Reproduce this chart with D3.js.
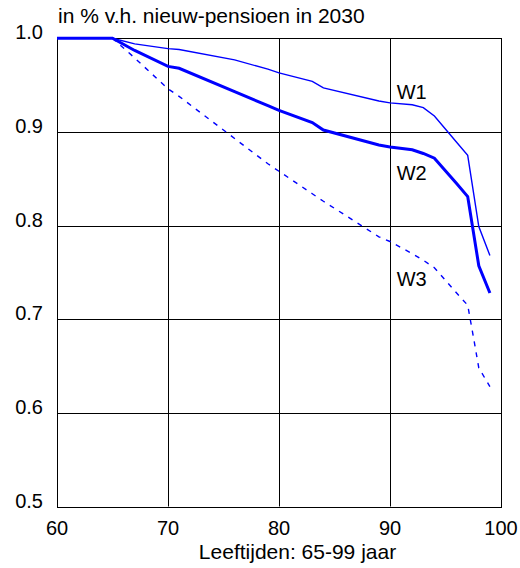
<!DOCTYPE html>
<html>
<head>
<meta charset="utf-8">
<script src="https://cdn.jsdelivr.net/npm/d3@7"></script>
<style>
  body { margin: 0; background: #fff; }
  text { font-family: "Liberation Sans", Arial, sans-serif; fill: #000; }
</style>
</head>
<body>
<script>
var w = 520, h = 568;

// data
var ages = [60, 65, 67, 70, 71, 76, 79, 80, 83, 84, 89, 90, 92, 93, 94, 96, 97, 98, 99];
var w1 = [1.0, 1.0, 0.994, 0.989, 0.988, 0.977, 0.967, 0.963, 0.954, 0.947, 0.933, 0.931, 0.929, 0.926, 0.917, 0.889, 0.875, 0.799, 0.768];
var w2 = [1.0, 1.0, 0.987, 0.970, 0.968, 0.943, 0.928, 0.923, 0.910, 0.902, 0.886, 0.884, 0.881, 0.877, 0.872, 0.845, 0.831, 0.757, 0.728];
var ages3 = [60, 65, 67, 70, 71, 76, 79, 80, 83, 84, 89, 90, 92, 93, 94, 96, 97, 97.5, 98, 99];
var w3 = [1.0, 1.0, 0.979, 0.946, 0.938, 0.893, 0.866, 0.858, 0.834, 0.826, 0.788, 0.783, 0.770, 0.763, 0.755, 0.728, 0.715, 0.682, 0.648, 0.628];
var xTicks = [60, 70, 80, 90, 100];
var yTicks = [0.5, 0.6, 0.7, 0.8, 0.9, 1.0];
var labels = [
  {name: "W1", age: 90.6, value: 0.935},
  {name: "W2", age: 90.6, value: 0.849},
  {name: "W3", age: 90.6, value: 0.735}
];

var x = d3.scaleLinear().domain([60, 100]).range([57, 501]),
    y = d3.scaleLinear().domain([0.5, 1.0]).range([506.5, 38.3]);

var svg = d3.select("body").append("svg")
  .attr("width", w)
  .attr("height", h);

// grid
svg.append("g").selectAll("line")
  .data(xTicks.slice(1, -1))
  .enter().append("line")
    .attr("x1", function(d) { return Math.round(x(d)) + 0.5; })
    .attr("x2", function(d) { return Math.round(x(d)) + 0.5; })
    .attr("y1", y(1.0))
    .attr("y2", y(0.5))
    .attr("stroke", "#000")
    .attr("stroke-width", 1);

svg.append("g").selectAll("line")
  .data(yTicks.slice(1, -1))
  .enter().append("line")
    .attr("x1", x(60))
    .attr("x2", x(100))
    .attr("y1", function(d) { return Math.round(y(d)) + 0.5; })
    .attr("y2", function(d) { return Math.round(y(d)) + 0.5; })
    .attr("stroke", "#000")
    .attr("stroke-width", 1);

svg.append("rect")
  .attr("x", Math.round(x(60)) + 0.5)
  .attr("y", Math.round(y(1.0)) + 0.5)
  .attr("width", Math.round(x(100)) - Math.round(x(60)))
  .attr("height", Math.round(y(0.5)) - Math.round(y(1.0)))
  .attr("fill", "none")
  .attr("stroke", "#000")
  .attr("stroke-width", 1);

// tick labels
svg.append("g").selectAll("text")
  .data(yTicks)
  .enter().append("text")
    .attr("x", 43)
    .attr("y", function(d) { return y(d) + 1; })
    .attr("text-anchor", "end")
    .style("font-size", "20px")
    .text(function(d) { return d.toFixed(1); });

svg.append("g").selectAll("text")
  .data(xTicks)
  .enter().append("text")
    .attr("x", function(d) { return x(d); })
    .attr("y", 535)
    .attr("text-anchor", "middle")
    .style("font-size", "20px")
    .text(function(d) { return d; });

svg.append("text")
  .attr("x", 297.5)
  .attr("y", 559)
  .attr("text-anchor", "middle")
  .style("font-size", "21px")
  .text("Leeftijden: 65-99 jaar");

svg.append("text")
  .attr("x", 58)
  .attr("y", 23)
  .style("font-size", "21px")
  .text("in % v.h. nieuw-pensioen in 2030");

// lines
var line = d3.line()
  .x(function(d) { return x(d[0]); })
  .y(function(d) { return y(d[1]); });

svg.append("path")
  .datum(d3.zip(ages, w1))
  .attr("d", line)
  .attr("fill", "none")
  .attr("stroke", "#0000ff")
  .attr("stroke-width", 1.4);

svg.append("path")
  .datum(d3.zip(ages, w2))
  .attr("d", line)
  .attr("fill", "none")
  .attr("stroke", "#0000ff")
  .attr("stroke-width", 3);

svg.append("path")
  .datum(d3.zip(ages3, w3))
  .attr("d", line)
  .attr("fill", "none")
  .attr("stroke", "#0000ff")
  .attr("stroke-width", 1.4)
  .attr("stroke-dasharray", "5,6");

svg.append("g").selectAll("text")
  .data(labels)
  .enter().append("text")
    .attr("x", function(d) { return x(d.age); })
    .attr("y", function(d) { return y(d.value); })
    .style("font-size", "20px")
    .text(function(d) { return d.name; });
</script>
</body>
</html>
